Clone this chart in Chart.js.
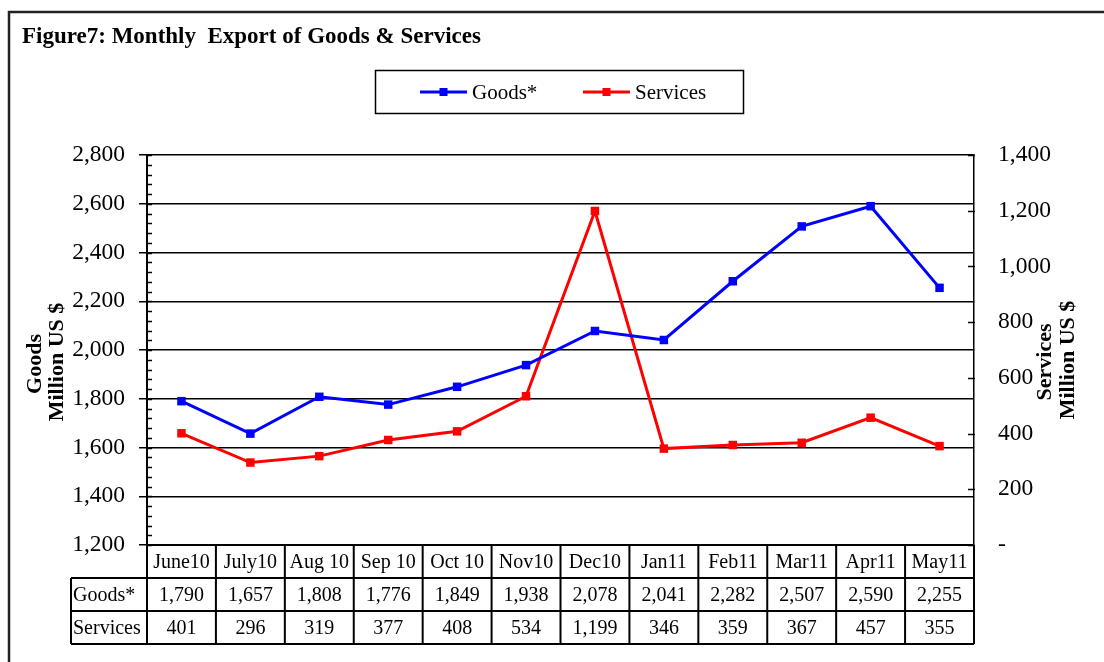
<!DOCTYPE html>
<html>
<head>
<meta charset="utf-8">
<script src="https://cdn.jsdelivr.net/npm/chart.js@4/dist/chart.umd.min.js"></script>
<style>
  body { margin: 0; background: #fff; }
  #wrap { width: 1104px; height: 662px; position: relative; }
</style>
</head>
<body>
<div id="wrap"><canvas id="exportChart" width="1104" height="662"></canvas></div>
<script>
// chart data
const months = ['June10', 'July10', 'Aug 10', 'Sep 10', 'Oct 10', 'Nov10', 'Dec10', 'Jan11', 'Feb11', 'Mar11', 'Apr11', 'May11'];
const goods = [1790, 1657, 1808, 1776, 1849, 1938, 2078, 2041, 2282, 2507, 2590, 2255];
const services = [401, 296, 319, 377, 408, 534, 1199, 346, 359, 367, 457, 355];
const goodsAxis = { min: 1200, max: 2800, step: 200, minor: 40 };
const servicesAxis = { min: 0, max: 1400, step: 200 };
const seriesNames = ['Goods*', 'Services'];
const seriesColors = ['#0000ff', '#ff0000'];

const SERIF = '"Liberation Serif", "Times New Roman", serif';
const fmt = v => v.toLocaleString('en-US');

// frame, title, legend, axis titles and the data table under the plot
const decorPlugin = {
    id: 'decor',
    beforeDraw(chart) {
        const ctx = chart.ctx;
        ctx.save();
        ctx.fillStyle = '#fff';
        ctx.fillRect(0, 0, chart.width, chart.height);
        // outer frame (only left and top edge are visible)
        ctx.strokeStyle = '#222';
        ctx.lineWidth = 2.5;
        ctx.beginPath();
        ctx.moveTo(9, chart.height + 5);
        ctx.lineTo(9, 12);
        ctx.lineTo(chart.width + 5, 12);
        ctx.stroke();
        ctx.restore();
    },
    afterDraw(chart) {
        const { ctx, chartArea: a, scales: { x, y, y1 } } = chart;
        ctx.save();

        // title
        ctx.fillStyle = '#000';
        ctx.font = 'bold 23px ' + SERIF;
        ctx.textBaseline = 'alphabetic';
        ctx.textAlign = 'left';
        ctx.fillText('Figure7: Monthly  Export of Goods & Services', 22, 43);

        // legend
        ctx.strokeStyle = '#000';
        ctx.lineWidth = 1.5;
        ctx.strokeRect(375.5, 70.5, 368, 43);
        ctx.font = '21px ' + SERIF;
        ctx.textBaseline = 'middle';
        const legendX = [420, 583];
        seriesNames.forEach((name, i) => {
            const lx = legendX[i], ly = 92;
            ctx.strokeStyle = seriesColors[i];
            ctx.lineWidth = 3;
            ctx.beginPath();
            ctx.moveTo(lx, ly);
            ctx.lineTo(lx + 47, ly);
            ctx.stroke();
            ctx.fillStyle = seriesColors[i];
            ctx.fillRect(lx + 19.5, ly - 4, 8, 8);
            ctx.fillStyle = '#000';
            ctx.fillText(name, lx + 52, ly + 1);
        });

        // axis titles, both reading upward
        ctx.font = 'bold 22px ' + SERIF;
        ctx.textAlign = 'center';
        const vText = (txt, cx, cy) => {
            ctx.save();
            ctx.translate(cx, cy);
            ctx.rotate(-Math.PI / 2);
            ctx.fillText(txt, 0, 0);
            ctx.restore();
        };
        vText('Goods', 35, 364);
        vText('Million US $', 57, 362);
        vText('Services', 1045, 362);
        vText('Million US $', 1068, 360);

        // minor ticks on goods axis
        ctx.strokeStyle = '#000';
        ctx.lineWidth = 1.5;
        ctx.beginPath();
        for (let v = goodsAxis.min; v <= goodsAxis.max; v += goodsAxis.minor) {
            const py = Math.round(y.getPixelForValue(v)) + 0.5;
            ctx.moveTo(a.left, py);
            ctx.lineTo(a.left + 5, py);
        }
        // inner ticks on services axis
        for (let v = servicesAxis.min; v <= servicesAxis.max; v += servicesAxis.step) {
            const py = Math.round(y1.getPixelForValue(v)) + 0.5;
            ctx.moveTo(a.right - 6, py);
            ctx.lineTo(a.right + 1, py);
        }
        ctx.stroke();

        // data table
        const colW = a.width / months.length;
        const rowH = 33;
        const top = a.bottom;
        const labelLeft = 71;
        ctx.lineWidth = 2;
        ctx.beginPath();
        ctx.moveTo(a.left, top); ctx.lineTo(a.right, top);
        for (let r = 1; r <= 3; r++) {
            ctx.moveTo(labelLeft, top + r * rowH);
            ctx.lineTo(a.right, top + r * rowH);
        }
        ctx.moveTo(labelLeft, top + rowH); ctx.lineTo(labelLeft, top + 3 * rowH);
        for (let i = 0; i <= months.length; i++) {
            const cx = a.left + i * colW;
            ctx.moveTo(cx, top); ctx.lineTo(cx, top + 3 * rowH);
        }
        ctx.stroke();

        ctx.fillStyle = '#000';
        ctx.font = '20px ' + SERIF;
        ctx.textBaseline = 'middle';
        ctx.textAlign = 'left';
        ctx.fillText('Goods*', labelLeft + 2, top + rowH * 1.5 + 1);
        ctx.fillText('Services', labelLeft + 2, top + rowH * 2.5 + 1);
        ctx.textAlign = 'center';
        months.forEach((m, i) => {
            const cx = x.getPixelForValue(i);
            ctx.fillText(m, cx, top + rowH * 0.5 + 1);
            ctx.fillText(fmt(goods[i]), cx, top + rowH * 1.5 + 1);
            ctx.fillText(fmt(services[i]), cx, top + rowH * 2.5 + 1);
        });

        ctx.restore();
    }
};

const ctx = document.getElementById('exportChart').getContext('2d');
new Chart(ctx, {
    type: 'line',
    data: {
        labels: months,
        datasets: [
            {
                label: seriesNames[0],
                data: goods,
                yAxisID: 'y',
                borderColor: seriesColors[0],
                backgroundColor: seriesColors[0],
                borderWidth: 3,
                pointStyle: 'rect',
                pointRadius: 6,
                pointBorderWidth: 0,
                tension: 0
            },
            {
                label: seriesNames[1],
                data: services,
                yAxisID: 'y1',
                borderColor: seriesColors[1],
                backgroundColor: seriesColors[1],
                borderWidth: 3,
                pointStyle: 'rect',
                pointRadius: 6,
                pointBorderWidth: 0,
                tension: 0
            }
        ]
    },
    options: {
        responsive: false,
        animation: false,
        devicePixelRatio: 1,
        layout: { padding: { top: 155, bottom: 117, left: 0, right: 0 } },
        plugins: {
            legend: { display: false },
            title: { display: false },
            tooltip: { enabled: false }
        },
        scales: {
            x: {
                type: 'category',
                offset: true,
                display: false
            },
            y: {
                position: 'left',
                min: goodsAxis.min,
                max: goodsAxis.max,
                afterFit: s => { s.width = 147; },
                ticks: {
                    stepSize: goodsAxis.step,
                    padding: 14,
                    color: '#000',
                    font: { family: SERIF, size: 23.5 },
                    callback: v => fmt(v)
                },
                grid: { color: '#000', lineWidth: 1.5, tickLength: 8 },
                border: { color: '#000', width: 2 }
            },
            y1: {
                position: 'right',
                min: servicesAxis.min,
                max: servicesAxis.max,
                afterFit: s => { s.width = 1104 - 974; },
                ticks: {
                    stepSize: servicesAxis.step,
                    padding: 24,
                    color: '#000',
                    font: { family: SERIF, size: 23.5 },
                    callback: v => v === 0 ? '-' : fmt(v)
                },
                grid: { drawOnChartArea: false, drawTicks: false },
                border: { color: '#000', width: 1.5, dash: [3, 2] }
            }
        }
    },
    plugins: [decorPlugin]
});
</script>
</body>
</html>
